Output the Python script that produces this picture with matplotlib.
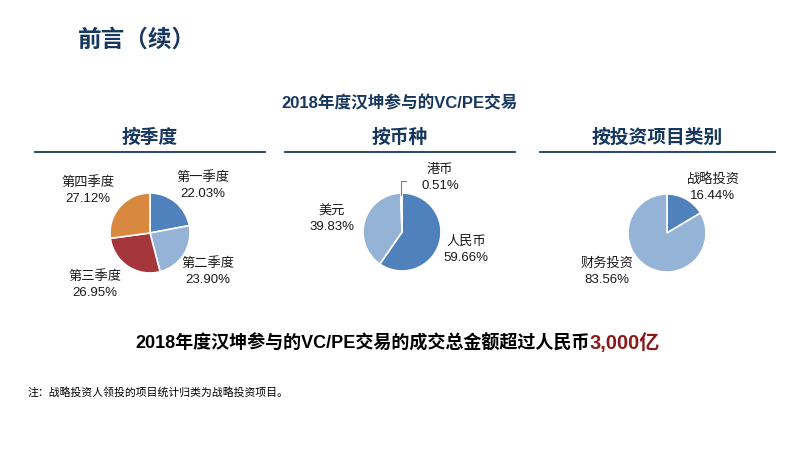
import matplotlib
matplotlib.use("Agg")
import matplotlib.pyplot as plt

plt.rcParams['font.family'] = ['Liberation Sans', 'Noto Sans CJK SC', 'DejaVu Sans']

# ---- data ----
quarter_labels = ["第一季度", "第二季度", "第三季度", "第四季度"]
quarter_values = [22.03, 23.90, 26.95, 27.12]
currency_labels = ["人民币", "美元", "港币"]
currency_values = [59.66, 39.83, 0.51]
type_labels = ["战略投资", "财务投资"]
type_values = [16.44, 83.56]

title = "前言（续）"
subtitle = "2018年度汉坤参与的VC/PE交易"
section_titles = ["按季度", "按币种", "按投资项目类别"]
summary_text = "2018年度汉坤参与的VC/PE交易的成交总金额超过人民币"
summary_amount = "3,000亿"
footnote = "注：战略投资人领投的项目统计归类为战略投资项目。"

# ---- style ----
W, H = 800, 450
NAVY = "#17375e"
quarter_colors = ["#4f81bd", "#95b3d7", "#a5363c", "#d9883f"]
currency_colors = ["#4f81bd", "#95b3d7", "#a5363c"]
type_colors = ["#4f81bd", "#95b3d7"]

fig = plt.figure(figsize=(8, 4.5), dpi=100)
fig.patch.set_facecolor("white")

def fx(x):
    return x / W

def fy(y):
    return 1 - y / H

fig.text(fx(78), fy(40), title, fontsize=17, fontweight="bold", color=NAVY,
         va="center", ha="left")
fig.text(fx(400), fy(103), subtitle, fontsize=12, fontweight="bold", color=NAVY,
         va="center", ha="center")

sections = [(35, 265), (285, 515), (540, 775)]
for (x0, x1), name in zip(sections, section_titles):
    fig.text(fx((x0 + x1) / 2), fy(138), name, fontsize=13.5, fontweight="bold",
             color=NAVY, va="center", ha="center")
    fig.add_artist(plt.Line2D([fx(x0), fx(x1)], [fy(152), fy(152)],
                              color=NAVY, lw=1.3))

def make_pie(cx, cy, r, values, colors):
    ax = fig.add_axes([fx(cx - r * 1.1), fy(cy + r * 1.1), 2.2 * r / W, 2.2 * r / H])
    ax.pie(values, colors=colors, startangle=90, counterclock=False,
           wedgeprops=dict(edgecolor="white", linewidth=1.2))
    ax.set_xlim(-1.1, 1.1)
    ax.set_ylim(-1.1, 1.1)
    ax.set_aspect("equal")
    ax.axis("off")
    return ax

make_pie(150, 233, 40, quarter_values, quarter_colors)
make_pie(402, 232, 39, currency_values, currency_colors)
make_pie(667, 233, 39, type_values, type_colors)

label_fs = 9.5

def label(x, y, name, value):
    fig.text(fx(x), fy(y), f"{name}\n{value:.2f}%", fontsize=label_fs, color="#1a1a1a",
             ha="center", va="center", linespacing=1.45)

q_pos = [(203, 186), (208, 272), (95, 285), (88, 191)]
for (x, y), n, v in zip(q_pos, quarter_labels, quarter_values):
    label(x, y, n, v)

c_pos = [(466, 250), (332, 219), (440, 178)]
for (x, y), n, v in zip(c_pos, currency_labels, currency_values):
    label(x, y, n, v)
# leader line for 港币
fig.add_artist(plt.Line2D([fx(401), fx(401), fx(406)], [fy(195), fy(181), fy(181)],
                          color="#808080", lw=0.8))

t_pos = [(713, 187), (607, 272)]
for (x, y), n, v in zip(t_pos, type_labels, type_values):
    label(x, y, n, v)

t1 = fig.text(fx(135), fy(343), summary_text, fontsize=13, fontweight="bold",
              color="black", ha="left", va="center")
fig.canvas.draw()
bb = t1.get_window_extent()
fig.text(bb.x1 / W, fy(343), summary_amount, fontsize=14.5, fontweight="bold",
         color="#8b1a1a", ha="left", va="center")

fig.text(fx(28), fy(392), footnote, fontsize=7.8, color="black", ha="left", va="center")

fig.savefig("out.png", dpi=100, facecolor="white")
